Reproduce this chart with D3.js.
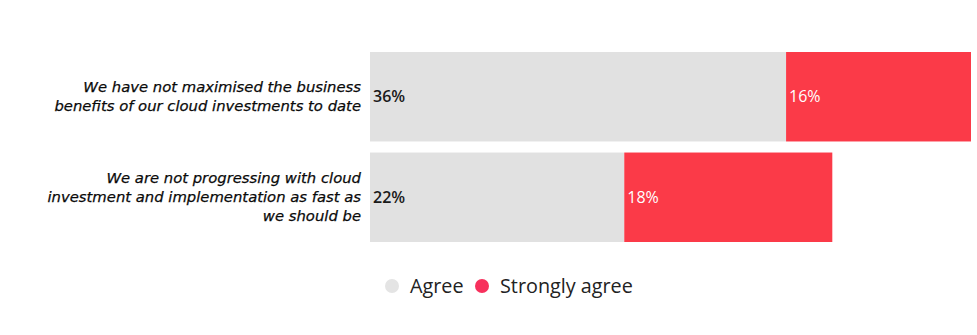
<!DOCTYPE html>
<html>
<head>
<meta charset="utf-8">
<script src="https://cdn.jsdelivr.net/npm/d3@7/dist/d3.min.js"></script>
<style>
  html, body { margin: 0; padding: 0; background: #ffffff; }
  svg { display: block; }
</style>
</head>
<body>
<svg id="chart" width="977" height="335"></svg>
<script>
// Survey statements and shares of respondents
const categories = [
  ["We have not maximised the business", "benefits of our cloud investments to date"],
  ["We are not progressing with cloud", "investment and implementation as fast as", "we should be"]
];
const seriesNames = ["Agree", "Strongly agree"];
const agree = [36, 22];
const stronglyAgree = [16, 18];
const colors = ["#e1e1e1", "#fb3a48"];
const valueTextColors = ["#1a1a1a", "#ffffff"];

const svg = d3.select("#chart");

const x = d3.scaleLinear().domain([0, 52]).range([370, 971]);
const y = d3.scaleBand().domain(d3.range(categories.length)).range([52, 242]).paddingInner(0.11);

const rows = categories.map((c, i) => ({ i, agree: agree[i], strong: stronglyAgree[i] }));
const stack = d3.stack().keys(["agree", "strong"])(rows);

const g = svg.append("g");

stack.forEach((layer, k) => {
  g.selectAll(null)
    .data(layer)
    .join("rect")
    .attr("x", d => x(d[0]))
    .attr("y", d => y(d.data.i))
    .attr("width", d => x(d[1]) - x(d[0]))
    .attr("height", y.bandwidth())
    .attr("fill", colors[k]);

  g.selectAll(null)
    .data(layer)
    .join("text")
    .attr("x", d => x(d[0]) + 3)
    .attr("y", d => y(d.data.i) + y.bandwidth() / 2)
    .attr("dy", "0.35em")
    .attr("font-family", "'Open Sans', Lato, sans-serif")
    .attr("font-size", 16)
    .attr("font-weight", k === 0 ? 600 : 400)
    .attr("fill", valueTextColors[k])
    .text(d => (d[1] - d[0]) + "%");
});

// Category labels, right-aligned next to the bars, one text per line
const lineH = 19;
categories.forEach((lines, i) => {
  const cy = y(i) + y.bandwidth() / 2;
  lines.forEach((ln, j) => {
    g.append("text")
      .attr("text-anchor", "end")
      .attr("x", 361)
      .attr("y", cy + (j - (lines.length - 1) / 2) * lineH)
      .attr("dy", "0.3em")
      .attr("font-family", "'DejaVu Sans', sans-serif")
      .attr("font-style", "italic")
      .attr("font-size", 14.8)
      .attr("fill", "#0a0a0a")
      .attr("stroke", "#0a0a0a")
      .attr("stroke-width", 0.25)
      .text(ln);
  });
});

// Legend
const legend = svg.append("g").attr("transform", "translate(0,286)");
const legendX = [392, 482];
seriesNames.forEach((name, k) => {
  legend.append("circle")
    .attr("cx", legendX[k])
    .attr("cy", 0)
    .attr("r", 7)
    .attr("fill", k === 0 ? "#e4e4e4" : "#f7305c");
  legend.append("text")
    .attr("x", legendX[k] + 18)
    .attr("y", 0)
    .attr("dy", "0.35em")
    .attr("font-family", "'Open Sans', Lato, sans-serif")
    .attr("font-size", 19.8)
    .attr("fill", "#222222")
    .text(name);
});
</script>
</body>
</html>
